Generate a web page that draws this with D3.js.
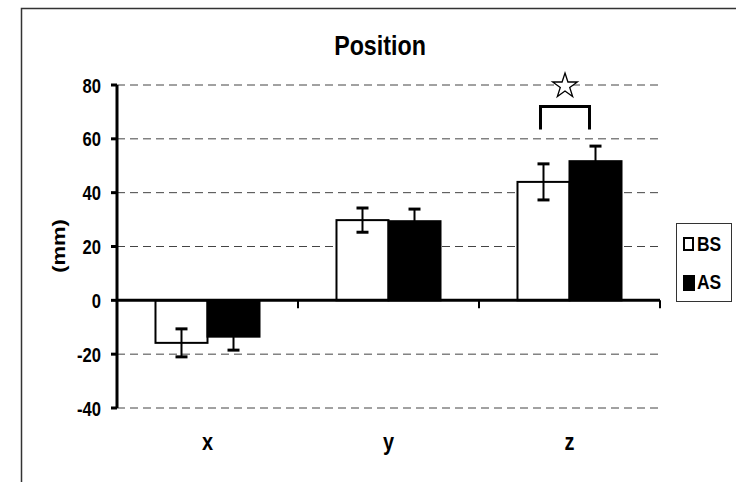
<!DOCTYPE html>
<html>
<head>
<meta charset="utf-8">
<script src="https://cdn.jsdelivr.net/npm/d3@7"></script>
<style>
  body { margin: 0; background: #fff; }
  text { font-family: "Liberation Sans", Arial, sans-serif; font-weight: bold; fill: #000; }
</style>
</head>
<body>
<div id="chart"></div>
<script>
// values
const categories = ["x", "y", "z"];
const seriesNames = ["BS", "AS"];
const bsMeans = [-15.8, 29.8, 44.0];
const asMeans = [-13.5, 29.4, 51.7];
const bsErrors = [5.2, 4.5, 6.7];
const asErrors = [5.0, 4.5, 5.6];
const yTicks = [-40, -20, 0, 20, 40, 60, 80];
const sigBracket = { category: "z", top: 72, bottom: 63.5, star: 80 };

const width = 736, height = 482;
const margin = { top: 85, left: 117, right: 76, bottom: 74 };
const sx = 0.83; // the original text is a bit squeezed sideways

let svg = d3.select("#chart").append("svg")
  .attr("width", width)
  .attr("height", height);

// frame: only the top and left edges are drawn
svg.append("path")
  .attr("d", "M21.5," + height + "V8.5H" + width)
  .attr("fill", "none")
  .attr("stroke", "#333")
  .attr("stroke-width", 1.5);

let x = d3.scaleBand().domain(categories).range([margin.left, width - margin.right]);
let x1 = d3.scaleBand().domain(seriesNames).range([0, x.bandwidth()]).paddingOuter(0.74);
let y = d3.scaleLinear().domain([-40, 80]).range([height - margin.bottom, margin.top]);

function label(sel, px, py, size, anchor, txt) {
  sel.append("text")
    .attr("transform", "translate(" + px + "," + py + ") scale(" + sx + ",1)")
    .attr("font-size", size)
    .attr("text-anchor", anchor)
    .text(txt);
}

// grid lines
svg.append("g").selectAll("line")
  .data(yTicks.filter(function(d) { return d != 0; }))
  .enter().append("line")
  .attr("x1", margin.left).attr("x2", width - margin.right)
  .attr("y1", function(d) { return y(d); })
  .attr("y2", function(d) { return y(d); })
  .attr("stroke", "#444")
  .attr("stroke-width", 1)
  .attr("stroke-dasharray", "8,5");

let rows = categories.map(function(c, i) {
  return [
    { cat: c, key: "BS", value: bsMeans[i], err: bsErrors[i] },
    { cat: c, key: "AS", value: asMeans[i], err: asErrors[i] }
  ];
});

let groups = svg.append("g").selectAll("g")
  .data(rows)
  .enter().append("g")
  .attr("transform", function(d) { return "translate(" + x(d[0].cat) + ",0)"; });

groups.selectAll("rect")
  .data(function(d) { return d; })
  .enter().append("rect")
  .attr("x", function(d) { return x1(d.key); })
  .attr("width", x1.bandwidth())
  .attr("y", function(d) { return y(Math.max(0, d.value)); })
  .attr("height", function(d) { return Math.abs(y(d.value) - y(0)); })
  .attr("fill", function(d) { return d.key == "BS" ? "#fff" : "#000"; })
  .attr("stroke", "#000")
  .attr("stroke-width", 2);

// error bars
let eb = groups.selectAll("g.err")
  .data(function(d) { return d; })
  .enter().append("g")
  .attr("class", "err")
  .attr("stroke", "#000");

eb.append("line")
  .attr("x1", function(d) { return x1(d.key) + x1.bandwidth() / 2; })
  .attr("x2", function(d) { return x1(d.key) + x1.bandwidth() / 2; })
  .attr("y1", function(d) { return y(d.value - d.err); })
  .attr("y2", function(d) { return y(d.value + d.err); })
  .attr("stroke-width", 2);

eb.selectAll("line.cap")
  .data(function(d) { return [d.value - d.err, d.value + d.err].map(function(v) { return { key: d.key, v: v }; }); })
  .enter().append("line")
  .attr("class", "cap")
  .attr("x1", function(d) { return x1(d.key) + x1.bandwidth() / 2 - 6; })
  .attr("x2", function(d) { return x1(d.key) + x1.bandwidth() / 2 + 6; })
  .attr("y1", function(d) { return y(d.v); })
  .attr("y2", function(d) { return y(d.v); })
  .attr("stroke-width", 3);

// x axis at zero
let xAxis = svg.append("g");
xAxis.append("line")
  .attr("x1", margin.left).attr("x2", width - margin.right)
  .attr("y1", y(0)).attr("y2", y(0))
  .attr("stroke", "#000").attr("stroke-width", 3);
xAxis.selectAll("line.tick")
  .data(categories.slice(1).map(function(c) { return x(c); }).concat([width - margin.right]))
  .enter().append("line")
  .attr("class", "tick")
  .attr("x1", function(d) { return d; }).attr("x2", function(d) { return d; })
  .attr("y1", y(0)).attr("y2", y(0) + 8)
  .attr("stroke", "#000").attr("stroke-width", 2);

// y axis
svg.append("line")
  .attr("x1", margin.left).attr("x2", margin.left)
  .attr("y1", y(-40)).attr("y2", y(80))
  .attr("stroke", "#000").attr("stroke-width", 3);
svg.append("g").selectAll("line")
  .data(yTicks)
  .enter().append("line")
  .attr("x1", margin.left - 6).attr("x2", margin.left)
  .attr("y1", function(d) { return y(d); })
  .attr("y2", function(d) { return y(d); })
  .attr("stroke", "#000").attr("stroke-width", 3);

yTicks.forEach(function(t) {
  label(svg, 101, y(t) + 7.5, 20, "end", t);
});

categories.forEach(function(c) {
  label(svg, x(c) + x.bandwidth() / 2, 450, 24, "middle", c);
});

// title and axis title
label(svg, 380, 55, 28, "middle", "Position");
svg.append("text")
  .attr("transform", "translate(65,246) rotate(-90) scale(1," + sx + ")")
  .attr("font-size", 22)
  .attr("text-anchor", "middle")
  .text("(mm)");

// significance bracket and star
let bx0 = x(sigBracket.category) + x1("BS") + x1.bandwidth() / 2 - 3;
let bx1 = x(sigBracket.category) + x1("AS") + x1.bandwidth() / 2 - 6;
svg.append("path")
  .attr("d", "M" + bx0 + "," + y(sigBracket.bottom) + "V" + y(sigBracket.top) + "H" + bx1 + "V" + y(sigBracket.bottom))
  .attr("fill", "none")
  .attr("stroke", "#000")
  .attr("stroke-width", 3);

let star = d3.symbol().type(d3.symbolStar).size(190);
svg.append("path")
  .attr("d", star())
  .attr("transform", "translate(" + ((bx0 + bx1) / 2) + "," + (y(sigBracket.star) + 1) + ")")
  .attr("fill", "#fff")
  .attr("stroke", "#000")
  .attr("stroke-width", 1.3);

// legend
let legend = svg.append("g");
legend.append("rect")
  .attr("x", 676.5).attr("y", 223.5)
  .attr("width", 55).attr("height", 78)
  .attr("fill", "#fff")
  .attr("stroke", "#333")
  .attr("stroke-width", 1);
seriesNames.forEach(function(s, i) {
  let ly = 250 + i * 38;
  legend.append("rect")
    .attr("x", 684).attr("y", ly - 12)
    .attr("width", i == 0 ? 9 : 10).attr("height", i == 0 ? 12 : 14)
    .attr("fill", s == "BS" ? "#fff" : "#000")
    .attr("stroke", "#000")
    .attr("stroke-width", 2);
  label(legend, 697, ly + 1, 21, "start", s);
});
</script>
</body>
</html>
